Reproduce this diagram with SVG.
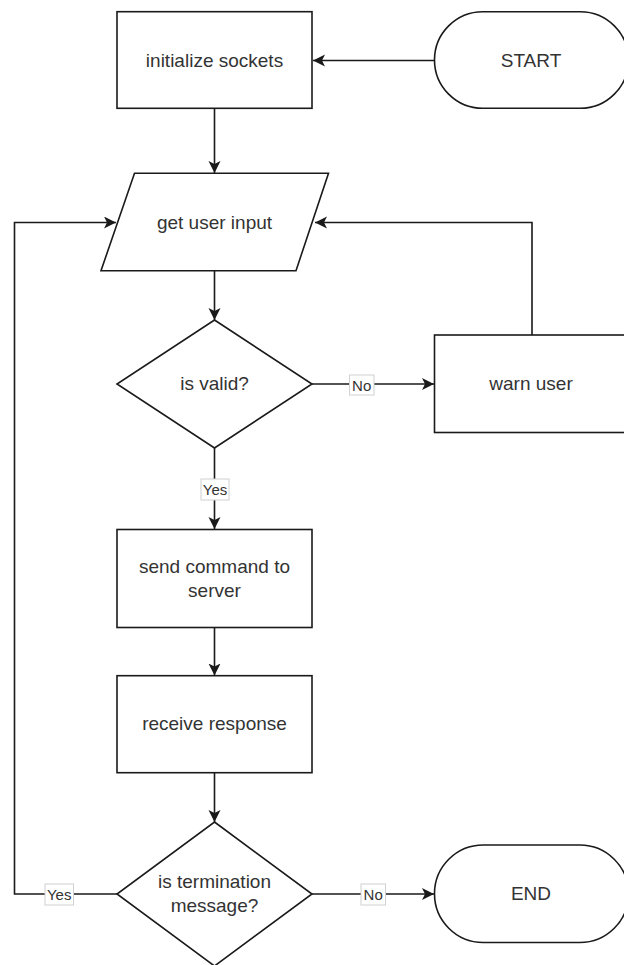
<svg xmlns="http://www.w3.org/2000/svg" width="624" height="965" viewBox="0 0 624 965">
<style>
.shape{fill:#fff;stroke:#1a1a1a;stroke-width:1.6}
.txt{font-family:"Liberation Sans",Arial,sans-serif;font-size:19px;fill:#333;text-anchor:middle;dominant-baseline:central}
.edge{fill:none;stroke:#1a1a1a;stroke-width:1.6}
.lblbg{fill:#fff;stroke:#d0d0d0;stroke-width:1}
.lbl{font-family:"Liberation Sans",Arial,sans-serif;font-size:15px;fill:#333;text-anchor:middle;dominant-baseline:central}
</style>
<defs>
<marker id="arrow" markerUnits="userSpaceOnUse" markerWidth="14" markerHeight="14" refX="12" refY="6" orient="auto">
<path d="M0,0 L12,6 L0,12 L3,6 Z" fill="#1a1a1a"/>
</marker>
</defs>
<rect width="624" height="965" fill="#fff"/>
<g id="connectors">
<line class="edge" x1="434.5" y1="60.5" x2="313" y2="60.5" marker-end="url(#arrow)"/>
<line class="edge" x1="214.5" y1="108.5" x2="214.5" y2="173" marker-end="url(#arrow)"/>
<line class="edge" x1="214.5" y1="271" x2="214.5" y2="320" marker-end="url(#arrow)"/>
<line class="edge" x1="312" y1="384" x2="434" y2="384" marker-end="url(#arrow)"/>
<polyline class="edge" points="532,335 532,222.5 315,222.5" marker-end="url(#arrow)"/>
<line class="edge" x1="214.5" y1="448" x2="214.5" y2="529" marker-end="url(#arrow)"/>
<line class="edge" x1="214.5" y1="627.5" x2="214.5" y2="675.5" marker-end="url(#arrow)"/>
<line class="edge" x1="214.5" y1="772.5" x2="214.5" y2="822" marker-end="url(#arrow)"/>
<polyline class="edge" points="117,894 14.5,894 14.5,222.5 116,222.5" marker-end="url(#arrow)"/>
<line class="edge" x1="312" y1="894" x2="434" y2="894" marker-end="url(#arrow)"/>
<g id="label-no-1"><rect class="lblbg" x="349.5" y="375" width="24.5" height="20"/><text class="lbl" x="361.7" y="385">No</text></g>
<g id="label-yes-1"><rect class="lblbg" x="201" y="479" width="28" height="21"/><text class="lbl" x="215" y="489.5">Yes</text></g>
<g id="label-yes-2"><rect class="lblbg" x="45" y="884" width="28.5" height="21"/><text class="lbl" x="59.2" y="894.5">Yes</text></g>
<g id="label-no-2"><rect class="lblbg" x="361" y="884" width="24.5" height="21"/><text class="lbl" x="373.2" y="894.5">No</text></g>
</g>
<g id="start"><rect class="shape" x="434.5" y="11.7" width="194" height="96.6" rx="48.3" ry="48.3"/><text class="txt" x="531" y="60">START</text></g>
<g id="init-sockets"><rect class="shape" x="117" y="11.7" width="195" height="96.6"/><text class="txt" x="214.5" y="60">initialize sockets</text></g>
<g id="get-input"><polygon class="shape" points="134.5,173.3 328.5,173.3 296,270.7 101,270.7"/><text class="txt" x="214.5" y="222">get user input</text></g>
<g id="is-valid"><polygon class="shape" points="214.5,320 312,384 214.5,448 117,384"/><text class="txt" x="214.5" y="383.5">is valid?</text></g>
<g id="warn-user"><rect class="shape" x="434.5" y="335" width="194" height="97.5"/><text class="txt" x="531" y="383.5">warn user</text></g>
<g id="send-command"><rect class="shape" x="117" y="529.5" width="195" height="98"/><text class="txt" x="214.5" y="566.5">send command to</text><text class="txt" x="214.5" y="590">server</text></g>
<g id="receive-response"><rect class="shape" x="117" y="675.7" width="195" height="97"/><text class="txt" x="214.5" y="723.5">receive response</text></g>
<g id="is-termination"><polygon class="shape" points="214.5,822 312,894 214.5,966 117,894"/><text class="txt" x="214.5" y="881.5">is termination</text><text class="txt" x="214.5" y="905.5">message?</text></g>
<g id="end"><rect class="shape" x="434.5" y="845" width="194" height="97.5" rx="48.7" ry="48.7"/><text class="txt" x="531" y="893.5">END</text></g>
</svg>
